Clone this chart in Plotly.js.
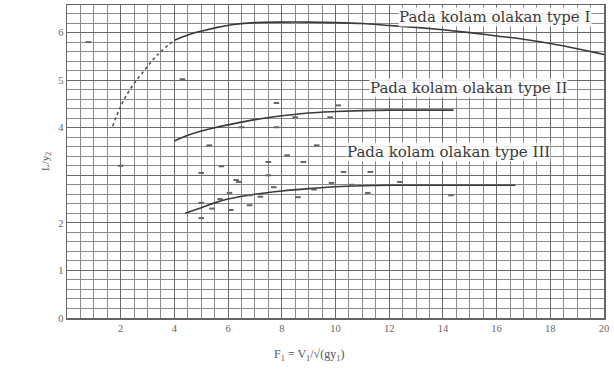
<!DOCTYPE html>
<html>
<head>
<meta charset="utf-8">
<script src="https://cdn.plot.ly/plotly-3.0.1.min.js"></script>
<style>html,body{margin:0;padding:0;background:#fff;}#chart{width:614px;height:381px;}</style>
</head>
<body>
<div id="chart"></div>
<script>
// Curve for stilling basin type I (dotted rising part, then solid)
const type1DotX = [1.7, 2.0, 2.4, 2.9, 3.4, 4.0];
const type1DotY = [4.03, 4.45, 4.85, 5.22, 5.55, 5.84];
const type1X = [4.0, 4.5, 5.0, 5.6, 6.2, 7.0, 8.0, 9.0, 10.0, 11.0, 12.0, 13.0, 14.0, 15.0, 16.0, 17.0, 18.0, 19.0, 20.0];
const type1Y = [5.84, 5.95, 6.03, 6.11, 6.17, 6.21, 6.22, 6.22, 6.21, 6.19, 6.15, 6.11, 6.06, 6.00, 5.93, 5.86, 5.77, 5.66, 5.54];
// Curve type II
const type2X = [4.0, 4.5, 5.0, 5.5, 6.0, 7.0, 8.0, 9.0, 10.0, 11.0, 12.0, 13.0, 14.4];
const type2Y = [3.72, 3.84, 3.93, 4.00, 4.06, 4.17, 4.25, 4.31, 4.34, 4.36, 4.37, 4.37, 4.37];
// Curve type III
const type3X = [4.4, 5.0, 5.5, 6.0, 7.0, 8.0, 9.0, 10.0, 11.0, 12.0, 13.0, 14.0, 15.0, 16.7];
const type3Y = [2.20, 2.32, 2.42, 2.50, 2.60, 2.67, 2.72, 2.76, 2.78, 2.79, 2.79, 2.79, 2.79, 2.79];
// Observed points
const pointsX = [0.8, 2.0, 4.3, 5.3, 7.8, 8.5, 7.8, 6.5, 5.75, 5.0, 7.5, 8.2, 8.8, 6.3, 7.5, 9.3, 9.8, 10.1,
                 10.3, 11.3, 9.85, 12.4, 11.2, 14.3, 7.7, 6.05, 6.8, 5.0, 6.1, 5.0, 6.8, 8.6, 6.4, 5.4, 5.7, 7.2, 9.2, 10.6];
const pointsY = [5.8, 3.2, 5.02, 3.63, 4.52, 4.22, 4.01, 4.01, 3.19, 3.05, 3.28, 3.42, 3.28, 2.9, 3.0, 3.63, 4.22, 4.47,
                 3.07, 3.07, 2.84, 2.86, 2.63, 2.58, 2.75, 2.63, 2.58, 2.42, 2.27, 2.10, 2.37, 2.54, 2.86, 2.30, 2.50, 2.55, 2.70, 2.80];
// Axis labels
const xTicks = [2, 4, 6, 8, 10, 12, 14, 16, 18, 20];
const yTicks = [0, 1, 2, 3, 4, 5, 6];
const yTickText = ['0', '1', '2', '', '4', '5', '6'];
const labels = ['Pada kolam olakan type I', 'Pada kolam olakan type II', 'Pada kolam olakan type III'];
const labelX = [15.95, 14.95, 14.2];
const labelY = [6.32, 4.83, 3.49];

const lineStyle = {color: '#3a3a3a', width: 1.6, shape: 'spline'};
const traces = [
  {x: type1DotX, y: type1DotY, mode: 'lines', line: {color: '#555', width: 1.6, dash: 'dot', shape: 'spline'}},
  {x: type1X, y: type1Y, mode: 'lines', line: lineStyle},
  {x: type2X, y: type2Y, mode: 'lines', line: lineStyle},
  {x: type3X, y: type3Y, mode: 'lines', line: lineStyle},
  {x: pointsX, y: pointsY, mode: 'markers', marker: {symbol: 'line-ew', size: 4, line: {color: '#666', width: 2}}}
];

const annotations = labels.map((t, i) => ({
  x: labelX[i], y: labelY[i], xref: 'x', yref: 'y', text: t, showarrow: false,
  font: {family: 'DejaVu Serif, Liberation Serif, serif', size: 15, color: '#3a3a3a'},
  bgcolor: 'rgba(255,255,255,0.85)', borderpad: 0
}));
annotations.push({
  xref: 'paper', yref: 'paper', x: 0.45, y: -0.15, text: 'F<sub>1</sub> = V<sub>1</sub>/√(gy<sub>1</sub>)',
  showarrow: false, font: {family: 'Liberation Serif, serif', size: 12, color: '#555'}
});

const layout = {
  width: 614, height: 381,
  margin: {l: 67, r: 10, t: 5, b: 63},
  paper_bgcolor: '#fff', plot_bgcolor: '#fff',
  showlegend: false,
  font: {family: 'Liberation Serif, DejaVu Serif, serif', size: 10, color: '#555'},
  xaxis: {
    range: [0, 20], tickvals: xTicks, ticks: '', showgrid: true, gridcolor: '#6a6a6a', gridwidth: 1,
    minor: {tickmode: 'linear', tick0: 0, dtick: 0.5, showgrid: true, gridcolor: '#8a8a8a', gridwidth: 1},
    showline: true, linecolor: '#666', linewidth: 1.5, mirror: true, zeroline: false,
    tickfont: {size: 10.5, color: '#666'}
  },
  yaxis: {
    range: [0, 6.58], tickvals: yTicks, ticktext: yTickText, ticks: '', showgrid: true, gridcolor: '#6a6a6a', gridwidth: 1,
    minor: {tickmode: 'linear', tick0: 0, dtick: 0.2, showgrid: true, gridcolor: '#8a8a8a', gridwidth: 1},
    showline: true, linecolor: '#666', linewidth: 1.5, mirror: true, zeroline: false,
    tickfont: {size: 10.5, color: '#666'},
    title: {text: 'L/y<sub>2</sub>', font: {size: 11, color: '#555'}, standoff: 6}
  },
  annotations: annotations
};
Plotly.newPlot('chart', traces, layout, {staticPlot: true, displayModeBar: false});
</script>
</body>
</html>
